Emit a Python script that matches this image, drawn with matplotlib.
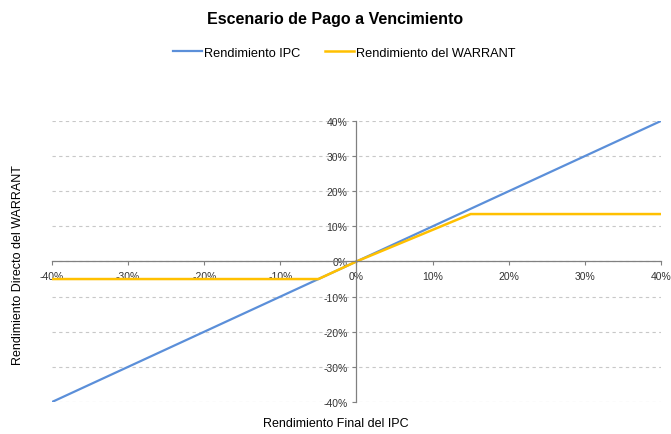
import matplotlib
matplotlib.use("Agg")
import matplotlib.pyplot as plt
from matplotlib.ticker import FuncFormatter

plt.rcParams['font.family'] = ['Liberation Sans', 'DejaVu Sans']

# datos
ipc_x = [-40, 40]
ipc_y = [-40, 40]
warrant_x = [-40, -5, 0, 15, 40]
warrant_y = [-5, -5, 0, 13.5, 13.5]
ticks = [-40, -30, -20, -10, 0, 10, 20, 30, 40]

fig = plt.figure(figsize=(6.71, 4.35), dpi=100)
ax = fig.add_axes([0.0775, 0.0736, 0.9075, 0.646])

ax.plot(ipc_x, ipc_y, color='#5B8FD9', lw=1.6, label='Rendimiento IPC')
ax.plot(warrant_x, warrant_y, color='#FFC000', lw=1.8, label='Rendimiento del WARRANT')

ax.set_xlim(-40, 40)
ax.set_ylim(-40, 40)
ax.set_xticks(ticks)
ax.set_yticks(ticks)
pct = FuncFormatter(lambda v, p: '%d%%' % v)
ax.xaxis.set_major_formatter(pct)
ax.yaxis.set_major_formatter(pct)

ax.spines['left'].set_position(('data', 0))
ax.spines['bottom'].set_position(('data', 0))
ax.spines['right'].set_visible(False)
ax.spines['top'].set_visible(False)
for s in ('left', 'bottom'):
    ax.spines[s].set_color('#808080')
    ax.spines[s].set_linewidth(0.9)
ax.tick_params(axis='both', labelsize=7.5, colors='#808080', labelcolor='#333333', length=3)

ax.yaxis.grid(True, ls=(0, (3, 3)), color='#C8C8C8', lw=0.8)
ax.set_axisbelow(True)

fig.text(0.5, 0.955, 'Escenario de Pago a Vencimiento', ha='center', va='center',
         fontsize=11.5, fontweight='bold')
fig.text(0.027, 0.39, 'Rendimiento Directo del WARRANT', rotation=90, ha='center',
         va='center', fontsize=9)
fig.text(0.5, 0.012, 'Rendimiento Final del IPC', ha='center', va='bottom', fontsize=9)

fig.legend(loc='center', bbox_to_anchor=(0.513, 0.877), ncol=2, frameon=False,
           fontsize=9.2, handlelength=2.3, columnspacing=1.9, handletextpad=0.15)

fig.savefig('out.png', dpi=100)
